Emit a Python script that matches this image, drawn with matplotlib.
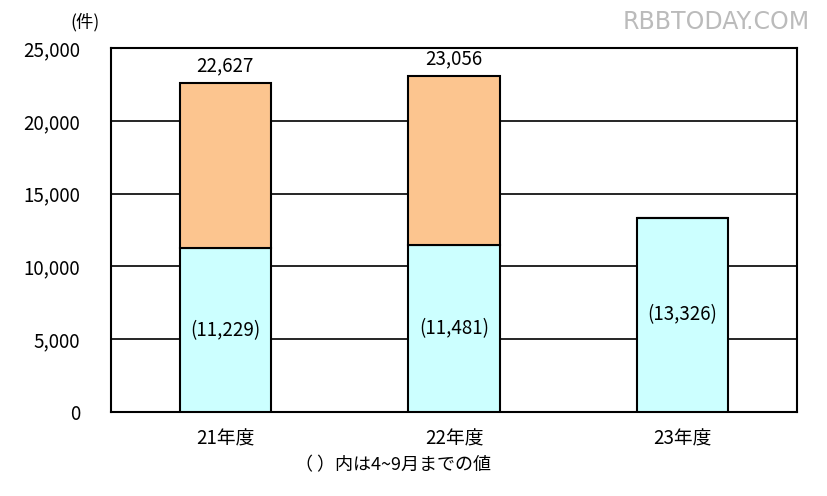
import matplotlib
matplotlib.use("Agg")
import matplotlib.pyplot as plt

plt.rcParams['font.family'] = ['Noto Sans CJK JP', 'DejaVu Sans']

categories = ['21年度', '22年度', '23年度']
first_half = [11229, 11481, 13326]
totals = [22627, 23056, None]
yticks = [0, 5000, 10000, 15000, 20000, 25000]

second_half = [(t - f) if t is not None else 0 for t, f in zip(totals, first_half)]

fig = plt.figure(figsize=(8.27, 4.96), dpi=100)
ax = fig.add_axes([0.1342, 0.1694, 0.8295, 0.7338])
x = list(range(len(categories)))
w = 0.4
ax.bar(x, first_half, width=w, color='#CCFFFF', edgecolor='black', linewidth=1.5, zorder=3)
ax.bar(x, second_half, width=w, bottom=first_half, color='#FCC58F', edgecolor='black', linewidth=1.5, zorder=3)

for i, (f, t) in enumerate(zip(first_half, totals)):
    ax.text(i, f / 2, f'({f:,})', ha='center', va='center', fontsize=13.5, zorder=4)
    if t is not None:
        ax.text(i, t + 450, f'{t:,}', ha='center', va='bottom', fontsize=13.5, zorder=4)

ax.set_xlim(-0.5, 2.5)
ax.set_ylim(0, 25000)
ax.set_yticks(yticks)
ax.set_yticklabels([f'{v:,}' for v in yticks], fontsize=13.5)
ax.tick_params(axis='y', length=0, pad=22)
ax.set_xticks(x)
ax.set_xticklabels(categories, fontsize=13.5)
ax.tick_params(axis='x', length=0, pad=12)
for v in yticks[1:-1]:
    ax.axhline(v, color='black', linewidth=1.2, zorder=1)
for s in ax.spines.values():
    s.set_linewidth(1.5)
    s.set_color('black')

fig.text(85 / 827, 1 - 22 / 496, '(件)', ha='center', va='center', fontsize=12.5)
fig.text(393 / 827, 1 - 465 / 496, '（ ）内は4~9月までの値', ha='center', va='center', fontsize=13)
fig.text(716 / 827, 1 - 22 / 496, 'RBBTODAY.COM', ha='center', va='center', fontsize=17,
         color='#BBBBBB', family=['DejaVu Sans'])

fig.savefig('out.png', dpi=100)
